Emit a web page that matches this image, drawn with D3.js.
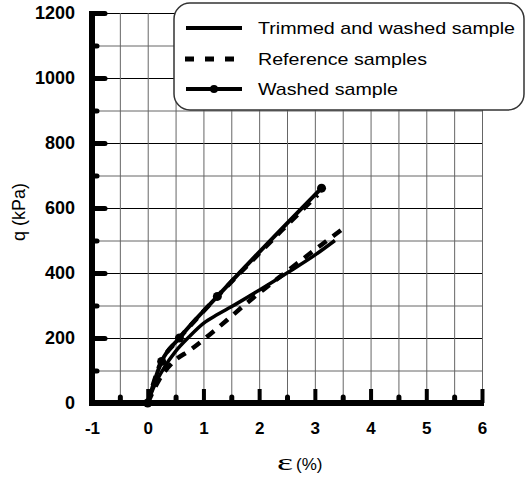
<!DOCTYPE html>
<html><head><meta charset="utf-8">
<script src="https://cdn.jsdelivr.net/npm/d3@7/dist/d3.min.js"></script>
<style>body{margin:0;background:#fff}svg{display:block}</style>
</head><body>
<svg id="c" width="529" height="482"></svg>
<script>
const xMajorTicks = [-1,0,1,2,3,4,5,6];
const xMinorTicks = [-0.5,0.5,1.5,2.5,3.5,4.5,5.5];
const yMajorTicks = [0,200,400,600,800,1000,1200];
const yMinorTicks = [100,300,500,700,900,1100];
const xGrid = [-0.5,0,0.5,1,1.5,2,2.5,3,3.5,4,4.5,5,5.5,6];
const yGrid = [100,200,300,400,500,600,700,800,900,1000,1100,1200];

const trimmedX = [0,0.1,0.3,0.5,0.75,1.0,1.25,1.5,2.0,2.5,3.0,3.36];
const trimmedY = [0,45,110,159,205,245,272,296,347,400,455,500];
const refUpperX = [0,0.2,0.55,0.85,1.25,1.8,2.4,3.05];
const refUpperY = [0,110,196,254,328,425,530,640];
const refLowerX = [0,0.2,0.45,0.77,1.11,1.43,1.74,2.07,2.5,3.15,3.51];
const refLowerY = [0,70,125,164,210,256,302,348,405,491,537];
const washedX = [0,0.25,0.57,1.25,3.12];
const washedY = [0,128,200,328,661];

const legendLabels = ["Trimmed and washed sample","Reference samples","Washed sample"];
const legendWidths = [257,169,140];

const svg = d3.select("#c");
const x = d3.scaleLinear().domain([-1,6]).range([92,482]);
const y = d3.scaleLinear().domain([0,1200]).range([403,13]);
const W = x(6)-x(-1), H = y(0)-y(1200);
const FONT = "Liberation Sans, Arial, sans-serif";

// grid
const gy = svg.append("g").attr("transform",`translate(${x(-1)},0)`)
  .call(d3.axisLeft(y).tickValues(yGrid).tickSize(-W).tickFormat(""));
gy.select(".domain").remove();
gy.selectAll(".tick line").attr("stroke",d=>d%200===0?"#000":"#666").attr("stroke-width",1);
const gx = svg.append("g").attr("transform",`translate(0,${y(0)})`)
  .call(d3.axisBottom(x).tickValues(xGrid).tickSize(-H).tickFormat(""));
gx.select(".domain").remove();
gx.selectAll(".tick line").attr("stroke","#666").attr("stroke-width",1);

// minor ticks
const ymin = svg.append("g").attr("transform",`translate(${x(-1)},0)`)
  .call(d3.axisLeft(y).tickValues(yMinorTicks).tickSize(-5).tickFormat(""));
ymin.select(".domain").remove();
ymin.selectAll(".tick line").attr("stroke","#000").attr("stroke-width",5).attr("stroke-linecap","round");
const xmin = svg.append("g").attr("transform",`translate(0,${y(0)})`)
  .call(d3.axisBottom(x).tickValues(xMinorTicks).tickSize(-6).tickFormat(""));
xmin.select(".domain").remove();
xmin.selectAll(".tick line").attr("stroke","#000").attr("stroke-width",5).attr("stroke-linecap","round");

// major axes
const yax = svg.append("g").attr("transform",`translate(${x(-1)},0)`)
  .call(d3.axisLeft(y).tickValues(yMajorTicks).tickSize(-13).tickPadding(17).tickFormat(d=>String(d)));
yax.select(".domain").attr("stroke","#000").attr("stroke-width",6).attr("d",`M0,${y(1200)-2}V${y(0)+2}`);
yax.selectAll(".tick line").attr("stroke","#000").attr("stroke-width",5).attr("stroke-linecap","round");
yax.selectAll(".tick text").attr("font-family",FONT).attr("font-weight","bold").attr("font-size",18).attr("fill","#000");

const xax = svg.append("g").attr("transform",`translate(0,${y(0)})`)
  .call(d3.axisBottom(x).tickValues(xMajorTicks).tickSize(-14).tickPadding(0).tickFormat(d=>String(d)));
xax.select(".domain").attr("stroke","#000").attr("stroke-width",6).attr("d",`M${x(-1)-3},0H${x(6)+2}`);
xax.selectAll(".tick line").attr("stroke","#000").attr("stroke-width",4);
xax.selectAll(".tick text").attr("font-family",FONT).attr("font-weight","bold").attr("font-size",17).attr("fill","#000").attr("dy","1.85em");

// series
const line = d3.line().x(d=>x(d[0])).y(d=>y(d[1])).curve(d3.curveMonotoneX);
const zip = (a,b)=>a.map((v,i)=>[v,b[i]]);
const plot = svg.append("g");
plot.append("path").datum(zip(refUpperX,refUpperY)).attr("d",line).attr("fill","none").attr("stroke","#000").attr("stroke-width",4.5).attr("stroke-dasharray","10,8");
plot.append("path").datum(zip(refLowerX,refLowerY)).attr("d",line).attr("fill","none").attr("stroke","#000").attr("stroke-width",4.5).attr("stroke-dasharray","10,8");
plot.append("path").datum(zip(trimmedX,trimmedY)).attr("d",line).attr("fill","none").attr("stroke","#000").attr("stroke-width",3.5);
plot.append("path").datum(zip(washedX,washedY)).attr("d",line).attr("fill","none").attr("stroke","#000").attr("stroke-width",4);
plot.selectAll("circle.w").data(zip(washedX,washedY)).enter().append("circle")
  .attr("cx",d=>x(d[0])).attr("cy",d=>y(d[1])).attr("r",4.5).attr("fill","#000");

// legend
const lg = svg.append("g");
lg.append("rect").attr("x",174).attr("y",3).attr("width",350).attr("height",107).attr("rx",16).attr("ry",16)
  .attr("fill","#fff").attr("stroke","#333").attr("stroke-width",1.5);
const rows = [28,59,89];
legendLabels.forEach((t,i)=>{
  const l = lg.append("line").attr("x1",186).attr("x2",242).attr("y1",rows[i]).attr("y2",rows[i]).attr("stroke","#000").attr("stroke-width",i===1?5:4);
  if(i===1) l.attr("stroke-dasharray","9,11").attr("x1",185);
  if(i===2) lg.append("circle").attr("cx",214).attr("cy",rows[i]).attr("r",4).attr("fill","#000");
  lg.append("text").attr("x",258).attr("y",rows[i]).attr("dy","0.35em").attr("font-family",FONT).attr("font-size",17)
    .attr("textLength",legendWidths[i]).attr("lengthAdjust","spacingAndGlyphs").text(t);
});

// axis titles
svg.append("text").attr("transform",`translate(25,212) rotate(-90)`).attr("text-anchor","middle")
  .attr("font-family",FONT).attr("font-size",18).text("q (kPa)");
svg.append("text").attr("x",277).attr("y",470).attr("font-family","Liberation Serif, Times New Roman, serif").attr("font-size",23)
  .attr("textLength",16).attr("lengthAdjust","spacingAndGlyphs").text("ε");
svg.append("text").attr("x",296).attr("y",470).attr("font-family",FONT).attr("font-size",17).text("(%)");
</script>
</body></html>
